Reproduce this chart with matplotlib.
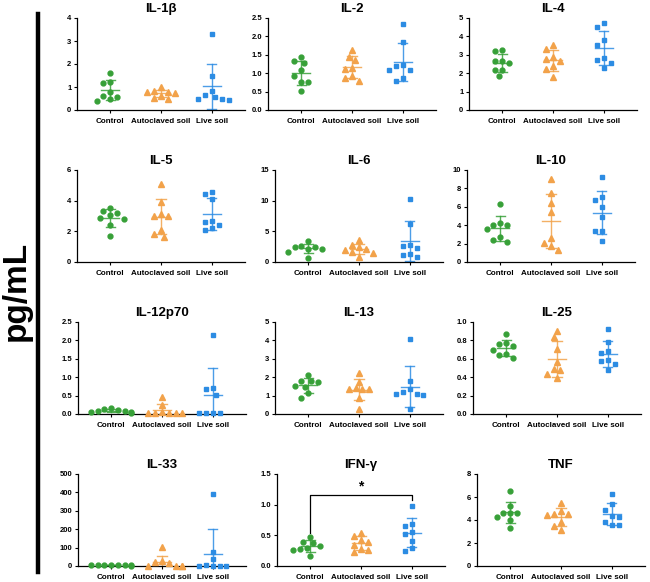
import matplotlib
matplotlib.use("Agg")
import matplotlib.pyplot as plt
import numpy as np

plt.rcParams['font.family'] = ['Liberation Sans', 'DejaVu Sans']
plt.rcParams['font.weight'] = 'bold'

groups = ["Control", "Autoclaved soil", "Live soil"]
colors = ["#37a038", "#f2a24a", "#2c8ce3"]
markers = ["o", "^", "s"]

# values per cytokine: [control, autoclaved soil, live soil], pg/mL
il1b = [[1.62, 1.22, 1.18, 0.80, 0.60, 0.55, 0.48, 0.40],
        [0.98, 0.82, 0.80, 0.80, 0.72, 0.62, 0.52, 0.50],
        [3.30, 1.47, 0.83, 0.65, 0.55, 0.50, 0.48, 0.45]]
il2 = [[1.45, 1.32, 1.28, 1.08, 0.93, 0.75, 0.75, 0.51],
       [1.62, 1.44, 1.37, 1.14, 1.12, 0.93, 0.86, 0.78],
       [2.33, 1.84, 1.22, 1.19, 1.10, 1.09, 0.88, 0.80]]
il4 = [[3.27, 3.18, 2.67, 2.67, 2.55, 2.18, 2.18, 1.85],
       [3.55, 3.33, 2.87, 2.78, 2.69, 2.40, 2.24, 1.80],
       [4.73, 4.51, 3.82, 3.51, 2.82, 2.73, 2.55, 2.27]]
il5 = [[3.55, 3.33, 3.18, 3.07, 2.90, 2.81, 2.42, 1.67],
       [5.06, 3.94, 3.14, 3.03, 2.97, 2.06, 1.82, 1.65],
       [4.59, 4.42, 4.11, 2.68, 2.64, 2.42, 2.21, 2.08]]
il6 = [[3.40, 2.60, 2.50, 2.45, 2.20, 2.15, 1.70, 0.70],
       [3.60, 2.80, 2.40, 2.20, 2.00, 1.60, 1.50, 0.80],
       [10.2, 6.20, 2.75, 2.65, 2.30, 1.30, 1.20, 0.80]]
il10 = [[6.28, 4.19, 4.04, 3.97, 3.61, 2.71, 2.35, 2.13],
        [8.99, 7.47, 6.39, 5.42, 2.60, 2.06, 1.77, 1.34],
        [9.24, 7.11, 6.75, 6.03, 4.84, 3.39, 3.32, 2.31]]
il12p70 = [[0.15, 0.13, 0.11, 0.09, 0.08, 0.06, 0.05, 0.04],
           [0.45, 0.25, 0.05, 0.03, 0.03, 0.02, 0.02, 0.02],
           [2.15, 0.70, 0.67, 0.52, 0.04, 0.04, 0.04, 0.04]]
il13 = [[2.13, 1.82, 1.80, 1.76, 1.53, 1.49, 1.13, 0.85],
        [2.22, 1.73, 1.40, 1.38, 1.36, 1.36, 0.89, 0.27],
        [4.07, 1.82, 1.36, 1.18, 1.07, 1.07, 1.04, 0.27]]
il25 = [[0.87, 0.77, 0.76, 0.74, 0.70, 0.65, 0.64, 0.61],
        [0.905, 0.836, 0.705, 0.56, 0.487, 0.48, 0.43, 0.396],
        [0.92, 0.778, 0.687, 0.662, 0.582, 0.571, 0.545, 0.473]]
il33 = [[8, 6, 5, 4, 4, 3, 3, 2],
        [104, 25, 22, 16, 0, 0, 0, 0],
        [393, 75, 38, 7, 0, 0, 0, 0]]
ifng = [[0.478, 0.397, 0.37, 0.33, 0.288, 0.277, 0.26, 0.168],
        [0.543, 0.489, 0.424, 0.397, 0.342, 0.277, 0.26, 0.223],
        [0.978, 0.679, 0.658, 0.56, 0.516, 0.408, 0.288, 0.245]]
tnf = [[6.55, 5.25, 4.64, 4.58, 4.58, 4.29, 4.00, 3.33],
       [5.51, 4.78, 4.52, 4.49, 4.43, 3.80, 3.51, 3.13],
       [6.23, 5.36, 4.87, 4.35, 4.29, 3.86, 3.57, 3.57]]

titles = ["IL-1β", "IL-2", "IL-4", "IL-5", "IL-6", "IL-10",
          "IL-12p70", "IL-13", "IL-25", "IL-33", "IFN-γ", "TNF"]
datasets = [il1b, il2, il4, il5, il6, il10, il12p70, il13, il25, il33, ifng, tnf]
ymaxes = [4, 2.5, 5, 6, 15, 10, 2.5, 5, 1.0, 500, 1.5, 8]
ysteps = [1, 0.5, 1, 2, 5, 2, 0.5, 1, 0.2, 100, 0.5, 2]

W, H = 650, 582
lefts = [77, 268, 469, 77, 275, 467, 78, 275, 473, 78, 277, 477]
tops = [18, 170, 322, 474]
AX_W, AX_H = 168, 92


def swarm(vals, ymax, step=6.8):
    # simple beeswarm in pixel space, half-step candidate offsets
    placed = []
    offs = [0.0] * len(vals)
    for i in np.argsort(vals)[::-1]:
        y = vals[i] / ymax * AX_H
        for c in [0, -1, 1, -2, 2, -3, 3, -4, 4, -5, 5, -6, 6]:
            x = c * step / 2
            if all((x - px) ** 2 + (y - py) ** 2 >= step ** 2 for px, py in placed):
                break
        placed.append((x, y))
        offs[i] = x / 51.0
    return offs


fig = plt.figure(figsize=(W / 100, H / 100), dpi=100)

for k, (title, data) in enumerate(zip(titles, datasets)):
    row = k // 3
    ax = fig.add_axes([lefts[k] / W, 1 - (tops[row] + AX_H) / H, AX_W / W, AX_H / H])
    ymax = ymaxes[k]
    for g, vals in enumerate(data):
        vals = np.array(vals, dtype=float)
        offs = swarm(vals, ymax)
        ax.plot(g + np.array(offs), vals, linestyle='none', marker=markers[g],
                color=colors[g], ms=3.5 if markers[g] != "^" else 3.8,
                clip_on=False, zorder=3)
        m, sd = vals.mean(), vals.std(ddof=1)
        ax.plot([g - 0.18, g + 0.18], [m, m], color=colors[g], lw=1.0, alpha=0.85, zorder=2)
        ax.plot([g, g], [max(m - sd, 0), m + sd], color=colors[g], lw=1.0, alpha=0.85, zorder=2)
        for yy in [m - sd, m + sd]:
            if yy > 0:
                ax.plot([g - 0.09, g + 0.09], [yy, yy], color=colors[g], lw=1.0,
                        alpha=0.85, zorder=2)

    ax.set_xlim(-0.65, 2.65)
    ax.set_ylim(0, ymax)
    ticks = np.arange(0, ymax + ysteps[k] / 2, ysteps[k])
    ax.set_yticks(ticks)
    if ysteps[k] < 1:
        ax.set_yticklabels([f"{t:.1f}" for t in ticks])
    else:
        ax.set_yticklabels([f"{t:.0f}" for t in ticks])
    ax.set_xticks(range(3))
    ax.set_xticklabels(groups, fontsize=5.8, fontweight='bold')
    ax.tick_params(axis='y', labelsize=5.5, length=2.5, width=0.8, pad=1.5)
    ax.tick_params(axis='x', length=2, width=0.8, pad=4)
    for s in ['top', 'right']:
        ax.spines[s].set_visible(False)
    for s in ['left', 'bottom']:
        ax.spines[s].set_linewidth(0.9)
    ax.set_title(title, fontsize=9.5, fontweight='bold', pad=4)

    if title == "IFN-γ":
        ax.plot([0, 0, 2, 2], [0.53, 1.16, 1.16, 1.07], color='black', lw=0.9, clip_on=False)
        ax.text(1, 1.19, "*", ha='center', va='bottom', fontsize=10, fontweight='bold')

# shared y label with the thick bar
fig.add_artist(plt.Line2D([38 / W, 38 / W], [1 - 14 / H, 1 - 572 / H],
                          color='black', lw=3.2, transform=fig.transFigure))
fig.text(16 / W, 0.5, "pg/mL", rotation=90, ha='center', va='center',
         fontsize=24, fontweight='bold')

fig.savefig("out.png", dpi=100)
